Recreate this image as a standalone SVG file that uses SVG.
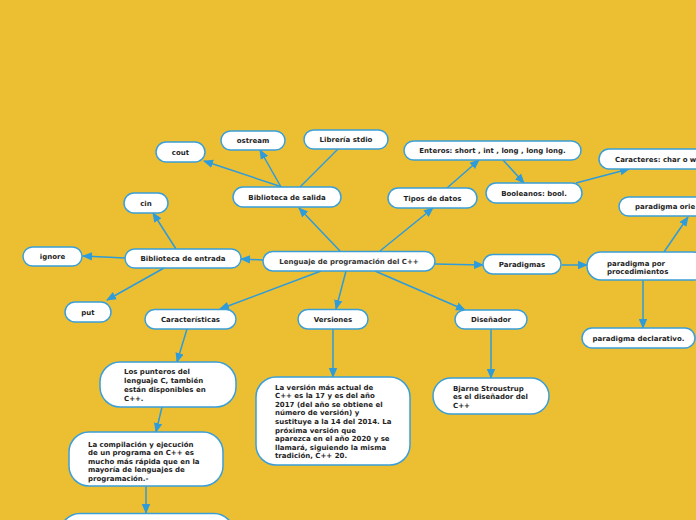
<svg xmlns="http://www.w3.org/2000/svg" width="696" height="520" viewBox="0 0 696 520">
<defs>
<marker id="ah" markerUnits="userSpaceOnUse" markerWidth="10" markerHeight="10" viewBox="0 0 10 10" refX="9" refY="5" orient="auto">
<path d="M0,0.8 L10,5 L0,9.2 Z" fill="#2E9BDA"/>
</marker>
<style>
.n rect{fill:#fff;stroke:#3A9FD8;stroke-width:1.5}
.t{font-family:"DejaVu Sans",Verdana,sans-serif;font-weight:bold;font-size:7px;fill:#1e1e1e}
.c{text-anchor:middle}
#connectors line{stroke:#2E9BDA;stroke-width:1.5;fill:none}
#connectors .a{marker-end:url(#ah)}
</style>
</defs>
<rect width="696" height="520" fill="#ECBF33"/>
<g id="connectors">
<line class="a" x1="340" y1="251" x2="299" y2="208"/>
<line class="a" x1="282" y1="187" x2="204" y2="161"/>
<line class="a" x1="281" y1="187" x2="260" y2="150"/>
<line x1="300" y1="187" x2="338" y2="149"/>
<line class="a" x1="380" y1="251" x2="433" y2="208"/>
<line class="a" x1="447" y1="188" x2="479" y2="160"/>
<line class="a" x1="503" y1="160" x2="524" y2="183"/>
<line class="a" x1="576" y1="183" x2="629" y2="169"/>
<line class="a" x1="664" y1="252" x2="688" y2="217"/>
<line class="a" x1="435" y1="264" x2="483" y2="265"/>
<line class="a" x1="562" y1="265" x2="587" y2="265"/>
<line class="a" x1="643" y1="280" x2="643" y2="328"/>
<line class="a" x1="375" y1="271" x2="465" y2="310"/>
<line class="a" x1="491" y1="329" x2="491" y2="378"/>
<line class="a" x1="346" y1="271" x2="336" y2="309"/>
<line class="a" x1="333" y1="329" x2="333" y2="377"/>
<line class="a" x1="321" y1="271" x2="220" y2="309"/>
<line class="a" x1="187" y1="329" x2="177" y2="362"/>
<line class="a" x1="162" y1="407" x2="156" y2="432"/>
<line class="a" x1="146" y1="486" x2="146" y2="513"/>
<line class="a" x1="263" y1="260" x2="241" y2="259"/>
<line class="a" x1="176" y1="249" x2="153" y2="213"/>
<line class="a" x1="125" y1="258" x2="83" y2="256"/>
<line class="a" x1="164" y1="268" x2="107" y2="300"/>
</g>
<g id="central" class="n"><rect x="263" y="251.5" width="172" height="19.5" rx="9.75"/><text class="t c" x="349" y="264" style="fill:#333">Lenguaje de programación del C++</text></g>
<g id="bib-salida" class="n"><rect x="233" y="187" width="108" height="20" rx="10"/><text class="t c" x="287" y="199.5">Biblioteca de salida</text></g>
<g id="cout" class="n"><rect x="156" y="142" width="49" height="20" rx="10"/><text class="t c" x="180.5" y="154.5">cout</text></g>
<g id="ostream" class="n"><rect x="221" y="131" width="64" height="19" rx="9.5"/><text class="t c" x="253" y="143">ostream</text></g>
<g id="stdio" class="n"><rect x="304" y="130" width="84" height="19" rx="9.5"/><text class="t c" x="346" y="142">Librería stdio</text></g>
<g id="tipos" class="n"><rect x="388" y="188" width="89" height="20" rx="10"/><text class="t c" x="432.5" y="200.5">Tipos de datos</text></g>
<g id="enteros" class="n"><rect x="404" y="141" width="177" height="19" rx="9.5"/><text class="t c" x="492.5" y="153">Enteros: short , int , long , long long.</text></g>
<g id="booleanos" class="n"><rect x="486" y="183" width="96" height="20" rx="10"/><text class="t c" x="534" y="195.5">Booleanos: bool.</text></g>
<g id="caracteres" class="n"><rect x="599" y="149" width="120" height="20" rx="10"/><text class="t" x="615" y="161.5">Caracteres: char o w</text></g>
<g id="orientado" class="n"><rect x="619" y="197" width="110" height="19" rx="9.5"/><text class="t" x="635" y="209">paradigma orie</text></g>
<g id="paradigmas" class="n"><rect x="483" y="254.5" width="78" height="19.5" rx="9.75"/><text class="t c" x="522" y="267">Paradigmas</text></g>
<g id="procedimientos" class="n"><rect x="587" y="252" width="120" height="28" rx="14"/><text class="t" x="607" y="265.5">paradigma por</text><text class="t" x="607" y="274">procedimientos</text></g>
<g id="declarativo" class="n"><rect x="582" y="328" width="113" height="20" rx="10"/><text class="t c" x="638.5" y="340.5">paradigma declarativo.</text></g>
<g id="disenador" class="n"><rect x="455" y="310" width="72" height="19" rx="9.5"/><text class="t c" x="491" y="322">Diseñador</text></g>
<g id="bjarne" class="n"><rect x="433" y="378" width="116" height="36" rx="18"/><text class="t" x="453" y="390.5">Bjarne Stroustrup</text><text class="t" x="453" y="399">es el diseñador del</text><text class="t" x="453" y="407.5">C++</text></g>
<g id="versiones" class="n"><rect x="298" y="309.5" width="70" height="19.5" rx="9.75"/><text class="t c" x="333" y="322">Versiones</text></g>
<g id="version-actual" class="n"><rect x="256" y="377" width="154" height="88" rx="20"/>
<text class="t" x="275" y="389.5">La versión más actual de</text>
<text class="t" x="275" y="398.1">C++ es la 17 y es del año</text>
<text class="t" x="275" y="406.7">2017 (del año se obtiene el</text>
<text class="t" x="275" y="415.3">número de versión) y</text>
<text class="t" x="275" y="423.9">sustituye a la 14 del 2014. La</text>
<text class="t" x="275" y="432.5">próxima versión que</text>
<text class="t" x="275" y="441.1">aparezca en el año 2020 y se</text>
<text class="t" x="275" y="449.7">llamará, siguiendo la misma</text>
<text class="t" x="275" y="458.3">tradición, C++ 20.</text></g>
<g id="caracteristicas" class="n"><rect x="145" y="309.5" width="91" height="19.5" rx="9.75"/><text class="t c" x="190.5" y="322">Características</text></g>
<g id="punteros" class="n"><rect x="100" y="362" width="136" height="45" rx="20"/>
<text class="t" x="124" y="374">Los punteros del</text>
<text class="t" x="124" y="383">lenguaje C, también</text>
<text class="t" x="124" y="392">están disponibles en</text>
<text class="t" x="124" y="401">C++.</text></g>
<g id="compilacion" class="n"><rect x="69" y="432" width="154" height="54" rx="20"/>
<text class="t" x="88" y="446.5">La compilación y ejecución</text>
<text class="t" x="88" y="455">de un programa en C++ es</text>
<text class="t" x="88" y="463.5">mucho más rápida que en la</text>
<text class="t" x="88" y="472">mayoría de lenguajes de</text>
<text class="t" x="88" y="480.5">programación.-</text></g>
<g id="bottom" class="n"><rect x="60" y="513.5" width="174" height="40" rx="20"/></g>
<g id="bib-entrada" class="n"><rect x="125" y="249" width="116" height="19" rx="9.5"/><text class="t c" x="183" y="261">Biblioteca de entrada</text></g>
<g id="cin" class="n"><rect x="124" y="193" width="44" height="20" rx="10"/><text class="t c" x="146" y="205.5">cin</text></g>
<g id="ignore" class="n"><rect x="23" y="247" width="59" height="19" rx="9.5"/><text class="t c" x="52.5" y="259">ignore</text></g>
<g id="put" class="n"><rect x="65" y="302" width="46" height="20" rx="10"/><text class="t c" x="88" y="314.5">put</text></g>
</svg>
